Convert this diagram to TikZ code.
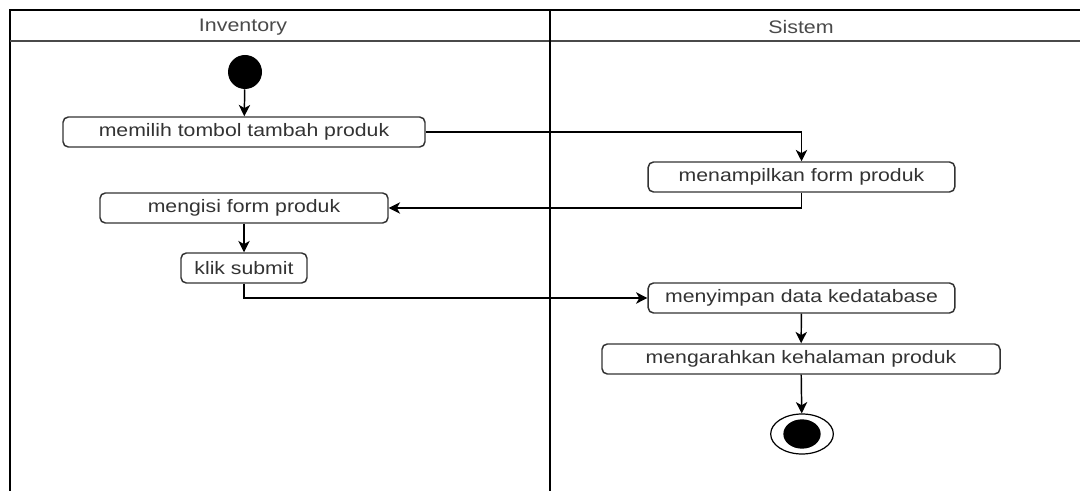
\documentclass[tikz,border=0pt]{standalone}
\usepackage{fontspec}
\setmainfont[FakeStretch=1.18]{Liberation Sans}
\usetikzlibrary{arrows.meta,shapes.geometric}
\definecolor{ink}{HTML}{333333}
\definecolor{hdr}{HTML}{4A4A4A}
\begin{document}
\begin{tikzpicture}[x=0.75pt,y=-0.75pt,
  act/.style={draw=ink,line width=1.1pt,rounded corners=4pt,minimum height=22.5pt,
    inner sep=0pt,text=ink,font=\fontsize{13.5pt}{15pt}\selectfont},
  flow/.style={draw=black,line width=1.1pt,-{Stealth[length=8.5pt,width=8.5pt,inset=2.4pt]}},
  lane/.style={draw=black,line width=1.1pt},
  lanetitle/.style={text=hdr,font=\fontsize{13.6pt}{15pt}\selectfont}]
\useasboundingbox (0,0) rectangle (1080,491);
\fill[white] (0,0) rectangle (1080,491);

% swimlanes
\draw[lane] (10,491) -- (10,10) -- (1085,10);
\draw[lane,draw=hdr,line width=1.6pt] (10,41) -- (1085,41);
\draw[lane] (550,10) -- (550,491);
\node[lanetitle] (laneA) at (243,27) {Inventory};
\node[lanetitle] (laneB) at (801,27) {Sistem};

% initial and final nodes
\node[circle,fill=black,minimum size=25.5pt,inner sep=0pt] (start) at (245,72) {};
\node[ellipse,draw=black,line width=0.9pt,minimum width=47pt,minimum height=30pt,inner sep=0pt] (stop) at (802,434) {};
\node[ellipse,fill=black,minimum width=28pt,minimum height=22pt,inner sep=0pt] (stopin) at (802,434) {};

% actions
\node[act,minimum width=271.5pt] (pilih) at (244,132) {memilih tombol tambah produk};
\node[act,minimum width=230pt] (tampil) at (801.5,177) {menampilkan form produk};
\node[act,minimum width=216pt] (isi) at (244,208) {mengisi form produk};
\node[act,minimum width=94.5pt] (submit) at (244,268) {klik submit};
\node[act,minimum width=230pt] (simpan) at (801.5,298) {menyimpan data kedatabase};
\node[act,minimum width=298.5pt] (arah) at (801,359) {mengarahkan kehalaman produk};

% control flow
\draw[flow] (start) -- (pilih);
\draw[flow] (pilih.east) -| (tampil.north);
\draw[flow] (tampil.south) |- (isi.east);
\draw[flow] (isi) -- (submit);
\draw[flow] (submit.south) |- (simpan.west);
\draw[flow] (simpan) -- (arah);
\draw[flow] (arah) -- (stop);
\end{tikzpicture}
\end{document}
